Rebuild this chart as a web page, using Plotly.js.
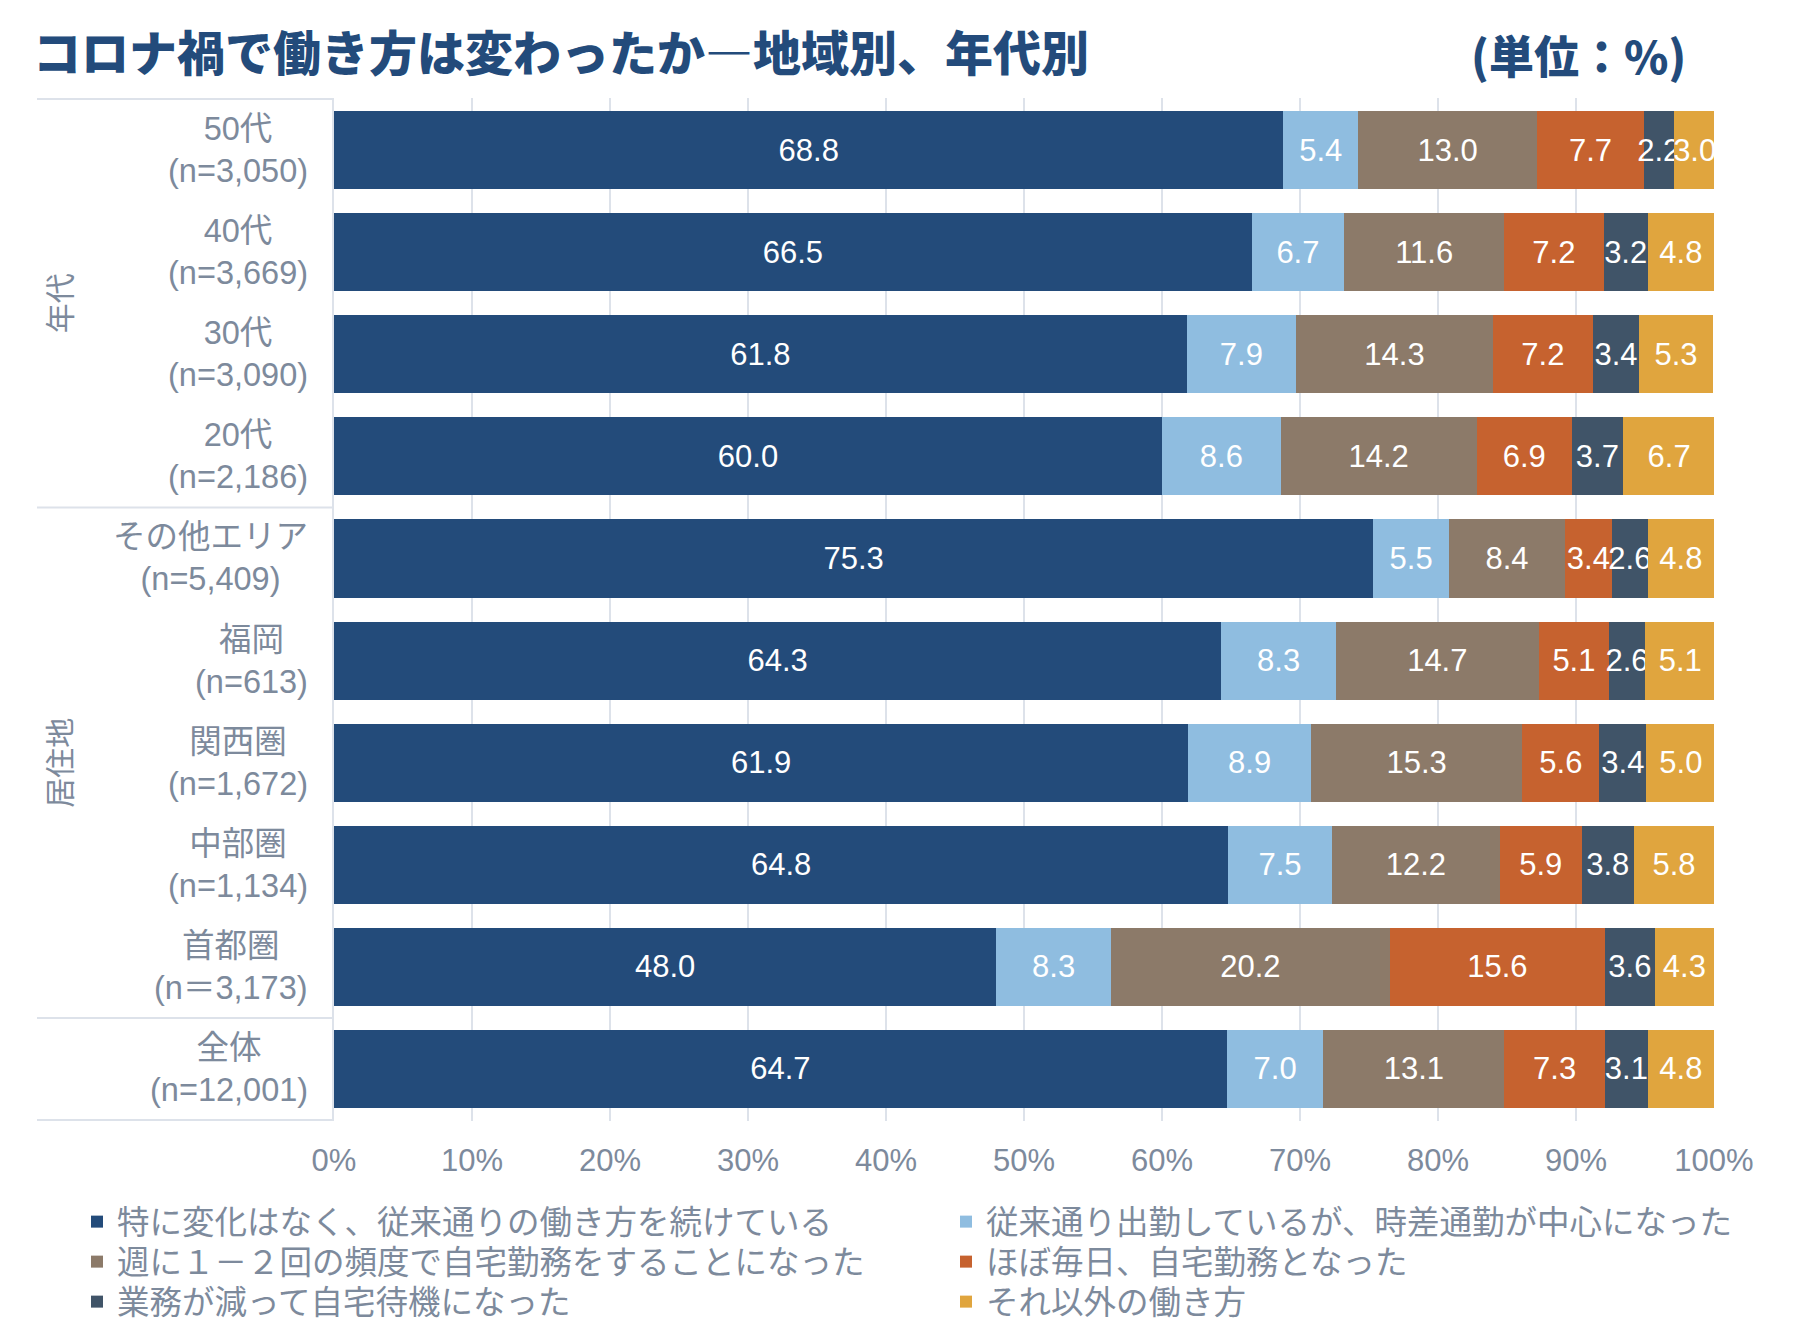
<!DOCTYPE html>
<html><head><meta charset="utf-8">
<script src="https://cdn.plot.ly/plotly-3.0.1.min.js"></script>
<style>html,body{margin:0;padding:0;background:#fff}#chart{width:1804px;height:1338px}</style>
</head><body><div id="chart"></div>
<script>
// ---- data ----
const categories = ['50代','40代','30代','20代','その他エリア','福岡','関西圏','中部圏','首都圏','全体'];
const sampleSizes = ['(n=3,050)','(n=3,669)','(n=3,090)','(n=2,186)','(n=5,409)','(n=613)','(n=1,672)','(n=1,134)','(n＝3,173)','(n=12,001)'];
const seriesNames = [
  '特に変化はなく、従来通りの働き方を続けている',
  '従来通り出勤しているが、時差通勤が中心になった',
  '週に１－２回の頻度で自宅勤務をすることになった',
  'ほぼ毎日、自宅勤務となった',
  '業務が減って自宅待機になった',
  'それ以外の働き方'
];
const noChange     = [68.8, 66.5, 61.8, 60.0, 75.3, 64.3, 61.9, 64.8, 48.0, 64.7];
const staggered    = [5.4, 6.7, 7.9, 8.6, 5.5, 8.3, 8.9, 7.5, 8.3, 7.0];
const partRemote   = [13.0, 11.6, 14.3, 14.2, 8.4, 14.7, 15.3, 12.2, 20.2, 13.1];
const mostlyRemote = [7.7, 7.2, 7.2, 6.9, 3.4, 5.1, 5.6, 5.9, 15.6, 7.3];
const standby      = [2.2, 3.2, 3.4, 3.7, 2.6, 2.6, 3.4, 3.8, 3.6, 3.1];
const otherWays    = [3.0, 4.8, 5.3, 6.7, 4.8, 5.1, 5.0, 5.8, 4.3, 4.8];
const groupLabels = ['年代', '居住地'];
const groupFirst = ['50代', 'その他エリア'];
const groupLast  = ['20代', '首都圏'];
const xTickVals = [0, 10, 20, 30, 40, 50, 60, 70, 80, 90, 100];
const xTickText = ['0%', '10%', '20%', '30%', '40%', '50%', '60%', '70%', '80%', '90%', '100%'];
const titleText = 'コロナ禍で働き方は変わったか―地域別、年代別';
const unitText = '(単位：%)';

// ---- styles ----
const colors = ['#234b7a', '#8fbde0', '#8c7a69', '#c6622f', '#405468', '#e0a53e'];
const seriesValues = [noChange, staggered, partRemote, mostlyRemote, standby, otherWays];
const FONT = 'Liberation Sans, Arial, Noto Sans CJK JP, sans-serif';
const GRAY = '#7d8a9c';
const NAVY = '#234b7b';
const W = 1804, H = 1338;
const L = 334, R = 1714, T = 98, B = 1121;
const pw = R - L, ph = B - T;
const px2x = p => (p - L) / pw;
const py2y = p => (B - p) / ph;

const traces = seriesValues.map((vals, i) => ({
  type: 'bar',
  orientation: 'h',
  name: seriesNames[i],
  y: categories,
  x: vals,
  marker: {color: colors[i], line: {width: 0}},
  texttemplate: '%{x:.1f}',
  textposition: 'inside',
  insidetextanchor: 'middle',
  textangle: 0,
  constraintext: 'none',
  textfont: {family: FONT, size: 31, color: '#ffffff'},
  hoverinfo: 'x+name',
  legend: i === 0 ? 'legend' : 'legend' + (i + 1)
}));

// legends: 2 columns x 3 rows
const legendTextStart = [117, 986];
const legendRows = [1222, 1262, 1302];
const layout = {
  width: W, height: H,
  margin: {l: L, r: W - R, t: T, b: H - B, pad: 0, autoexpand: false},
  paper_bgcolor: '#ffffff', plot_bgcolor: '#ffffff',
  barmode: 'stack',
  bargap: 0.235,
  showlegend: true,
  title: {
    text: titleText,
    font: {family: 'Noto Sans CJK JP', size: 48, color: NAVY, weight: 900},
    x: 33 / W, xref: 'container', xanchor: 'left',
    y: 1 - 54 / H, yref: 'container', yanchor: 'middle'
  },
  xaxis: {
    range: [0, 100], fixedrange: true, automargin: false,
    tickmode: 'array', tickvals: xTickVals, ticktext: xTickText,
    showgrid: true, gridcolor: '#dde2ea', gridwidth: 2,
    zeroline: false, showline: false, ticks: '',
    ticklabelstandoff: 18,
    tickfont: {family: FONT, size: 31, color: GRAY}
  },
  yaxis: {
    type: 'category', categoryorder: 'array', categoryarray: categories,
    autorange: 'reversed', fixedrange: true, automargin: false,
    showticklabels: false, ticks: '',
    showgrid: false, zeroline: false,
    showline: true, linecolor: '#dde2ea', linewidth: 2
  },
  annotations: [],
  shapes: []
};

for (let i = 0; i < 6; i++) {
  const key = i === 0 ? 'legend' : 'legend' + (i + 1);
  const col = i % 2, row = Math.floor(i / 2);
  layout[key] = {
    x: px2x(legendTextStart[col] - 40), xref: 'paper', xanchor: 'left',
    y: py2y(legendRows[row]), yref: 'paper', yanchor: 'middle',
    orientation: 'v', traceorder: 'normal',
    bgcolor: 'rgba(0,0,0,0)', borderwidth: 0,
    font: {family: 'Noto Sans CJK JP', size: 32.5, color: GRAY},
    itemwidth: 30
  };
}

// category labels (centered multi-line)
categories.forEach((c, i) => {
  layout.annotations.push({
    xref: 'paper', yref: 'y', x: px2x(310), y: c,
    xanchor: 'right', yanchor: 'middle', align: 'center',
    text: c + '<br>' + sampleSizes[i], showarrow: false,
    font: {family: FONT, size: 32.5, color: GRAY}
  });
});

// group labels and table lines
groupLabels.forEach((g, k) => {
  const a = categories.indexOf(groupFirst[k]);
  const b = categories.indexOf(groupLast[k]);
  layout.annotations.push({
    xref: 'paper', yref: 'y', x: px2x(58), y: (a + b) / 2,
    xanchor: 'center', yanchor: 'middle', textangle: -90,
    text: g, showarrow: false,
    font: {family: 'Noto Sans CJK JP', size: 30, color: GRAY}
  });
});
const boundaries = [-0.5, categories.indexOf('20代') + 0.5, categories.indexOf('首都圏') + 0.5, categories.length - 0.5];
boundaries.forEach(b => {
  layout.shapes.push({
    type: 'line', xref: 'paper', yref: 'y',
    x0: px2x(37), x1: 0, y0: b, y1: b,
    line: {color: '#dde2ea', width: 2}
  });
});

// unit label
layout.annotations.push({
  xref: 'paper', yref: 'paper', x: px2x(1688), y: py2y(54),
  xanchor: 'right', yanchor: 'middle',
  text: unitText, showarrow: false,
  font: {family: 'Noto Sans CJK JP', size: 45, color: NAVY, weight: 900}
});

Plotly.newPlot('chart', traces, layout, {displayModeBar: false, staticPlot: true});
</script>
</body></html>
